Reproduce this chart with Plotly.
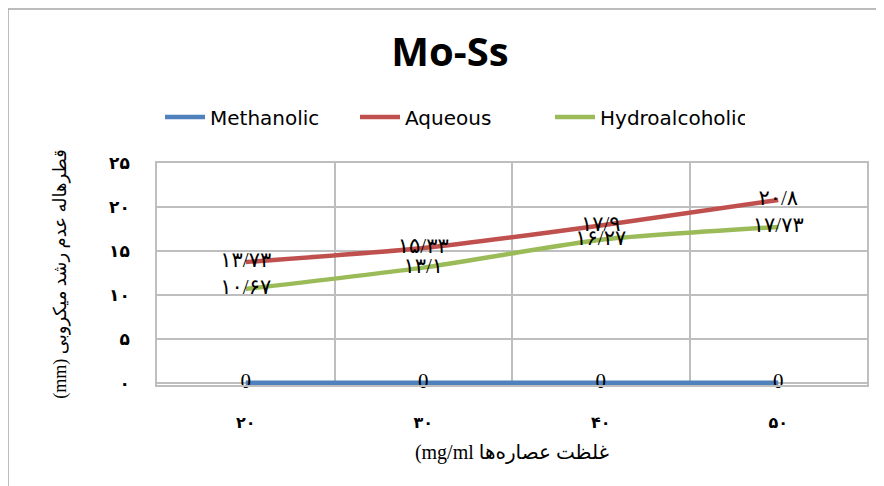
import plotly.graph_objects as go

categories = ["۲۰", "۳۰", "۴۰", "۵۰"]
methanolic = [0, 0, 0, 0]
aqueous = [13.73, 15.33, 17.9, 20.8]
hydroalcoholic = [10.67, 13.1, 16.27, 17.73]
methanolic_text = ["0", "0", "0", "0"]
aqueous_text = ["۱۳/۷۳", "۱۵/۳۳", "۱۷/۹", "۲۰/۸"]
hydro_text = ["۱۰/۶۷", "۱۳/۱", "۱۶/۲۷", "۱۷/۷۳"]
y_tickvals = [0, 5, 10, 15, 20, 25]
y_ticktext = ["۰", "۵", "۱۰", "۱۵", "۲۰", "۲۵"]

label_font = dict(family="Liberation Serif, DejaVu Sans", size=21, color="black")

fig = go.Figure()
series = [
    ("Methanolic", methanolic, methanolic_text, "#4F81BD"),
    ("Aqueous", aqueous, aqueous_text, "#C0504D"),
    ("Hydroalcoholic", hydroalcoholic, hydro_text, "#9BBB59"),
]
for name, vals, txt, col in series:
    fig.add_trace(go.Scatter(
        x=categories, y=vals, name=name, mode="lines+text",
        text=txt, textposition="middle center", textfont=label_font,
        line=dict(color=col, width=4.5, shape="spline", smoothing=0.6),
        cliponaxis=False, hoverinfo="x+y",
    ))

# page body has an 8px margin: figure coords = page coords - 8
L, R, T, B = 149, 25, 155, 109
PW, PH = 884 - L - R, 486 - T - B
grid = "#BEBEBE"
fig.update_layout(
    width=884, height=486,
    margin=dict(l=L, r=R, t=T, b=B, autoexpand=False),
    paper_bgcolor="white", plot_bgcolor="white",
    title=dict(text="<b>Mo-Ss</b>", x=(450 - 8) / 884, xanchor="center", y=1 - 44 / 486, yanchor="middle",
               font=dict(family="Open Sans", size=40, color="black")),
    legend=dict(orientation="h", x=(160 - 157) / PW, xanchor="left", y=(375 - 107) / PH, yanchor="middle",
                font=dict(family="DejaVu Sans", size=20, color="black"),
                entrywidth=140, entrywidthmode="pixels",
                itemwidth=40, tracegroupgap=0, bgcolor="rgba(0,0,0,0)"),
    showlegend=True,
    xaxis=dict(type="category", range=[-0.5, 3.5], tickson="boundaries", showgrid=True, gridcolor=grid,
               gridwidth=1.5, showline=True, linecolor=grid, linewidth=1.5, mirror=True, ticks="",
               ticklabelstandoff=22, automargin=False,
               tickfont=dict(family="DejaVu Sans", size=16, color="black", weight="bold"),
               title=dict(text="(mg/ml غلظت عصاره‌ها", standoff=14,
                          font=dict(family="Liberation Serif, DejaVu Sans", size=20, color="black")),
               zeroline=False),
    yaxis=dict(range=[-0.25, 25], tickvals=y_tickvals, ticktext=y_ticktext, showgrid=True, gridcolor=grid,
               gridwidth=1.5, showline=True, linecolor=grid, linewidth=1.5, mirror=True, ticks="",
               ticklabelstandoff=22, zeroline=False, automargin=False,
               tickfont=dict(family="DejaVu Sans", size=17, color="black", weight="bold"),
               title=dict(text="(mm) قطرهاله عدم رشد میکروبی", standoff=38,
                          font=dict(family="Liberation Serif, DejaVu Sans", size=18, color="black"))),
)
fig.add_shape(type="rect", xref="paper", yref="paper", x0=(0 - L) / PW, x1=(900 - L) / PW,
              y0=(PH - 520 + T) / PH, y1=(PH + T - 1) / PH, line=dict(color="#A6A6A6", width=1.5), layer="below")
fig.write_html("out.html")
